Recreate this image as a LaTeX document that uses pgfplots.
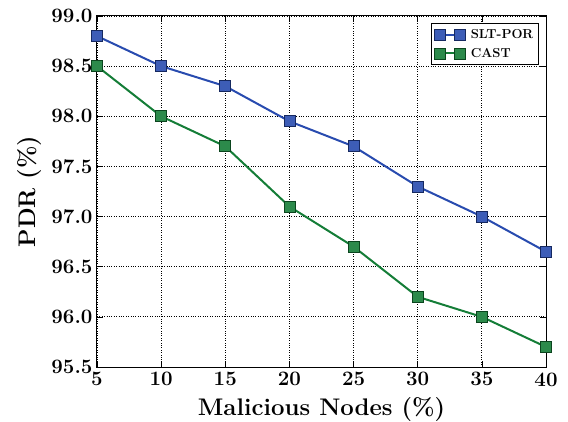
\documentclass[border=0pt]{standalone}
\usepackage{pgfplots}
\pgfplotsset{compat=1.18}
\definecolor{cblue}{RGB}{40,75,175}
\definecolor{cgreen}{RGB}{20,125,55}
\begin{document}
\begin{tikzpicture}
\begin{axis}[
  scale only axis,
  width=449pt, height=351pt,
  xmin=5, xmax=40, ymin=95.5, ymax=99.0,
  xtick={5,10,...,40},
  ytick={95.5,96.0,...,99.0},
  /pgf/number format/assume math mode=true,
  yticklabel style={/pgf/number format/fixed, /pgf/number format/fixed zerofill, /pgf/number format/precision=1, xshift=-1pt},
  xticklabel style={yshift=-2pt},
  tick label style={font=\fontsize{20.5}{24}\selectfont\bfseries},
  xlabel={Malicious Nodes (\%)},
  ylabel={PDR (\%)},
  label style={font=\fontsize{24}{28}\selectfont\bfseries},
  xlabel style={at={(axis description cs:0.5,-0.1368)}, anchor=base},
  ylabel style={at={(axis description cs:-0.138,0.5)}, anchor=base},
  grid=major,
  major grid style={black, dotted, line width=0.8pt},
  tick align=inside,
  major tick length=6pt,
  tick style={black, line width=0.6pt},
  axis line style={black, line width=1pt},
  legend style={at={(1,1)}, xshift=-7pt, yshift=-7pt, anchor=north east, draw=black, line width=1.2pt,
    font=\fontsize{13}{15}\selectfont\bfseries, inner xsep=3pt, inner ysep=4pt, row sep=4pt,
    /tikz/every odd column/.append style={column sep=3pt}},
  legend cell align=left,
  legend image code/.code={\draw[#1, mark repeat=1] plot coordinates {(0pt,0pt) (20pt,0pt)};},
]
\addplot[cblue, line width=2pt, mark=square*, mark size=5.5pt, mark options={fill=cblue!90!white, draw=cblue!55!black, line width=0.8pt}]
coordinates {(5,98.8) (10,98.5) (15,98.3) (20,97.95) (25,97.7) (30,97.3) (35,97.0) (40,96.65)};
\addlegendentry{SLT-POR}
\addplot[cgreen, line width=2pt, mark=square*, mark size=5.5pt, mark options={fill=cgreen!90!white, draw=cgreen!55!black, line width=0.8pt}]
coordinates {(5,98.5) (10,98.0) (15,97.7) (20,97.1) (25,96.7) (30,96.2) (35,96.0) (40,95.7)};
\addlegendentry{CAST}
\end{axis}
\pgfresetboundingbox
\useasboundingbox (-97pt,-54pt) rectangle (471pt,367pt);
\end{tikzpicture}
\end{document}
